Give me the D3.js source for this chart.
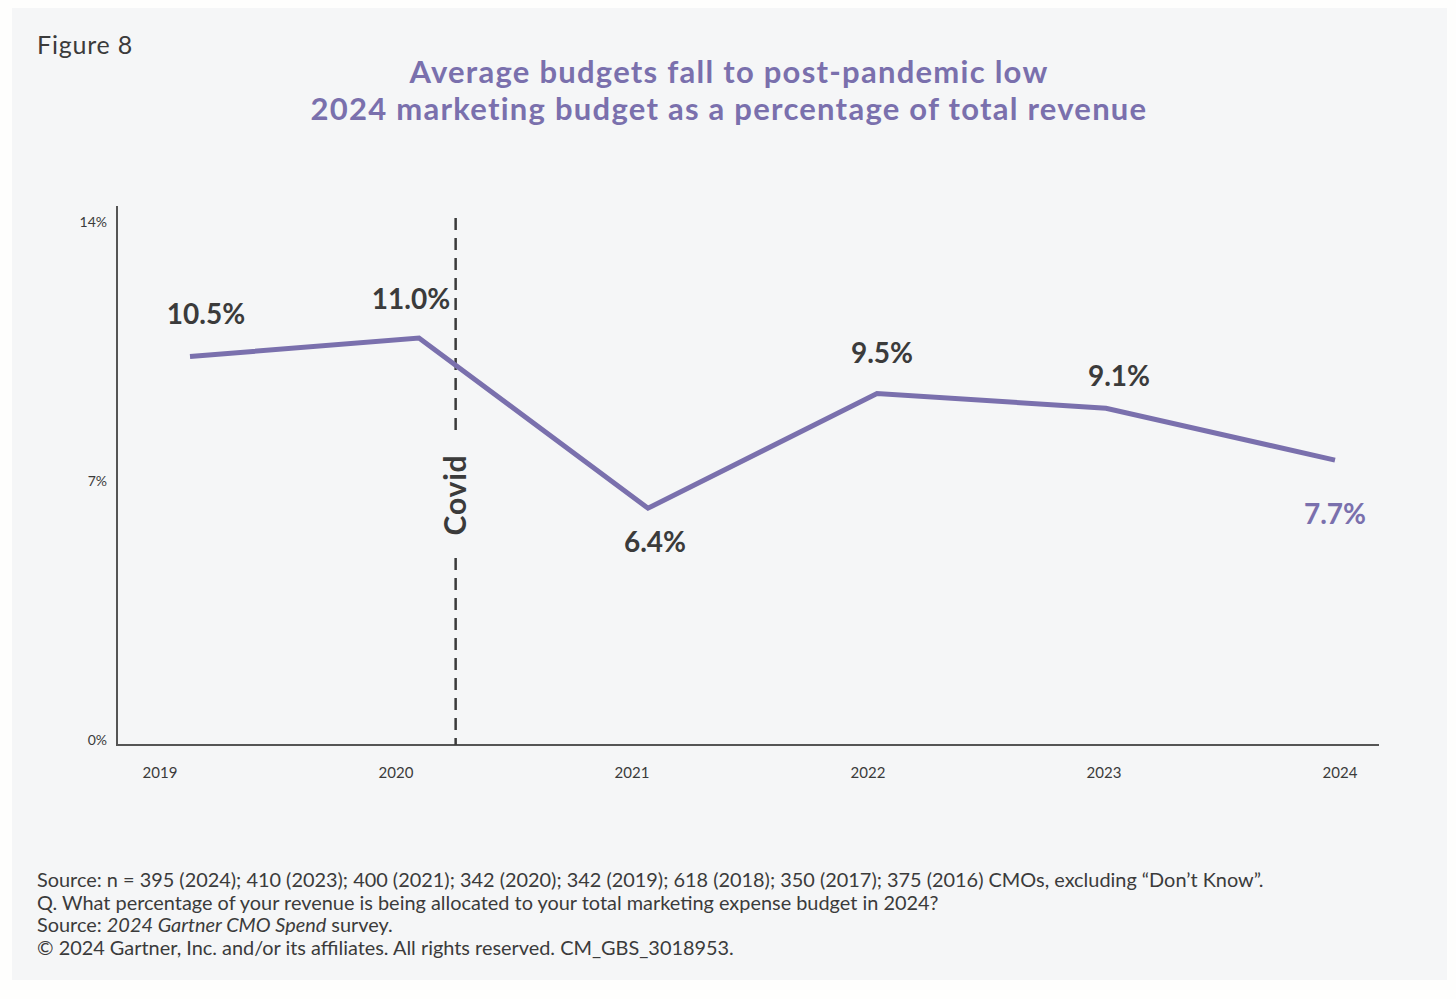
<!DOCTYPE html>
<html>
<head>
<meta charset="utf-8">
<script src="https://cdn.jsdelivr.net/npm/d3@7"></script>
<style>
  body { margin: 0; background: #fefefd; }
  svg { display: block; font-family: Lato, "Open Sans", sans-serif; }
</style>
</head>
<body>
<script>
// years on the x axis
var years = ["2019", "2020", "2021", "2022", "2023", "2024"];
// marketing budget as % of revenue
var budgets = [10.5, 11.0, 6.4, 9.5, 9.1, 7.7];
// y tick values
var yTicks = [0, 7, 14];
// where the Covid marker sits (fraction of the way from 2020 to 2021)
var covidAt = { from: "2020", to: "2021", t: 0.16 };

var titleLines = [
    "Average budgets fall to post-pandemic low",
    "2024 marketing budget as a percentage of total revenue"
];
var footLines = [
    "Source: n = 395 (2024); 410 (2023); 400 (2021); 342 (2020); 342 (2019); 618 (2018); 350 (2017); 375 (2016) CMOs, excluding \u201cDon\u2019t Know\u201d.",
    "Q. What percentage of your revenue is being allocated to your total marketing expense budget in 2024?",
    "Source: ",
    "\u00a9 2024 Gartner, Inc. and/or its affiliates. All rights reserved. CM_GBS_3018953."
];

var W = 1456, H = 999;
var purple = "#7a70ad", dark = "#3b3b3b";

var svg = d3.select("body").append("svg")
    .attr("width", W)
    .attr("height", H);

// grey card
svg.append("rect")
    .attr("x", 12).attr("y", 8)
    .attr("width", 1435).attr("height", 972)
    .attr("fill", "#f5f6f7");

svg.append("text")
    .attr("x", 37).attr("y", 54)
    .attr("font-size", 25)
    .attr("letter-spacing", 0.8)
    .attr("fill", dark)
    .text("Figure 8");

svg.selectAll(".title")
    .data(titleLines)
    .enter().append("text")
    .attr("class", "title")
    .attr("x", 729)
    .attr("y", function(d, i){ return 83 + i * 37; })
    .attr("text-anchor", "middle")
    .attr("font-size", 31)
    .attr("letter-spacing", 1.25)
    .attr("font-weight", 700)
    .attr("fill", purple)
    .text(function(d){ return d; });

// scales
var x = d3.scalePoint()
    .domain(years)
    .range([160, 1340]);
// the line itself sits a bit inside the labels
var xLine = d3.scalePoint()
    .domain(years)
    .range([190, 1335]);
var y = d3.scaleLinear()
    .domain([0, 14])
    .range([745, 227]);

// axes
svg.append("line")
    .attr("x1", 117).attr("x2", 117)
    .attr("y1", 206).attr("y2", 746)
    .attr("stroke", "#555").attr("stroke-width", 2);
svg.append("line")
    .attr("x1", 116).attr("x2", 1379)
    .attr("y1", y(0)).attr("y2", y(0))
    .attr("stroke", "#555").attr("stroke-width", 2);

svg.selectAll(".ytick")
    .data(yTicks)
    .enter().append("text")
    .attr("class", "ytick")
    .attr("x", 107)
    .attr("y", function(d){ return y(d) - 5; })
    .attr("dy", "0.35em")
    .attr("text-anchor", "end")
    .attr("font-size", 14)
    .attr("fill", dark)
    .text(function(d){ return d + "%"; });

svg.selectAll(".xtick")
    .data(years)
    .enter().append("text")
    .attr("class", "xtick")
    .attr("x", function(d){ return x(d); })
    .attr("y", 773)
    .attr("dy", "0.35em")
    .attr("text-anchor", "middle")
    .attr("font-size", 15)
    .attr("fill", dark)
    .text(function(d){ return d; });

// covid marker
var covidX = xLine(covidAt.from) + (xLine(covidAt.to) - xLine(covidAt.from)) * covidAt.t;
svg.append("line")
    .attr("x1", covidX).attr("x2", covidX)
    .attr("y1", 218).attr("y2", y(0))
    .attr("stroke", dark).attr("stroke-width", 2.5)
    .attr("stroke-dasharray", "12,8");
svg.append("rect")
    .attr("x", covidX - 17).attr("y", 436)
    .attr("width", 34).attr("height", 118)
    .attr("fill", "#f5f6f7");
svg.append("text")
    .attr("transform", "translate(" + covidX + ",495) rotate(-90)")
    .attr("dy", "0.35em")
    .attr("text-anchor", "middle")
    .attr("font-size", 30)
    .attr("letter-spacing", 0.8)
    .attr("font-weight", 700)
    .attr("fill", dark)
    .text("Covid");

// the line
var line = d3.line()
    .x(function(d, i){ return xLine(years[i]); })
    .y(function(d){ return y(d); });
svg.append("path")
    .datum(budgets)
    .attr("d", line)
    .attr("fill", "none")
    .attr("stroke", purple)
    .attr("stroke-width", 5);

// value labels: offsets from the point
var labelOff = [[16, -42], [-8, -39], [7, 34], [5, -40], [13, -32], [0, 54]];
svg.selectAll(".val")
    .data(budgets)
    .enter().append("text")
    .attr("class", "val")
    .attr("x", function(d, i){ return xLine(years[i]) + labelOff[i][0]; })
    .attr("y", function(d, i){ return y(d) + labelOff[i][1]; })
    .attr("dy", "0.35em")
    .attr("text-anchor", "middle")
    .attr("font-size", 28)
    .attr("font-weight", 700)
    .attr("fill", function(d, i){ return i === budgets.length - 1 ? purple : dark; })
    .text(function(d){ return d.toFixed(1) + "%"; });

// footnote
var foot = svg.selectAll(".foot")
    .data(footLines)
    .enter().append("text")
    .attr("class", "foot")
    .attr("x", 37)
    .attr("y", function(d, i){ return 887 + i * 22.7; })
    .attr("font-size", 19.9)
    .attr("fill", dark)
    .text(function(d){ return d; });
// third line has an italic survey name
d3.select(foot.nodes()[2]).append("tspan")
    .attr("font-style", "italic")
    .text("2024 Gartner CMO Spend");
d3.select(foot.nodes()[2]).append("tspan")
    .text(" survey.");
</script>
</body>
</html>
